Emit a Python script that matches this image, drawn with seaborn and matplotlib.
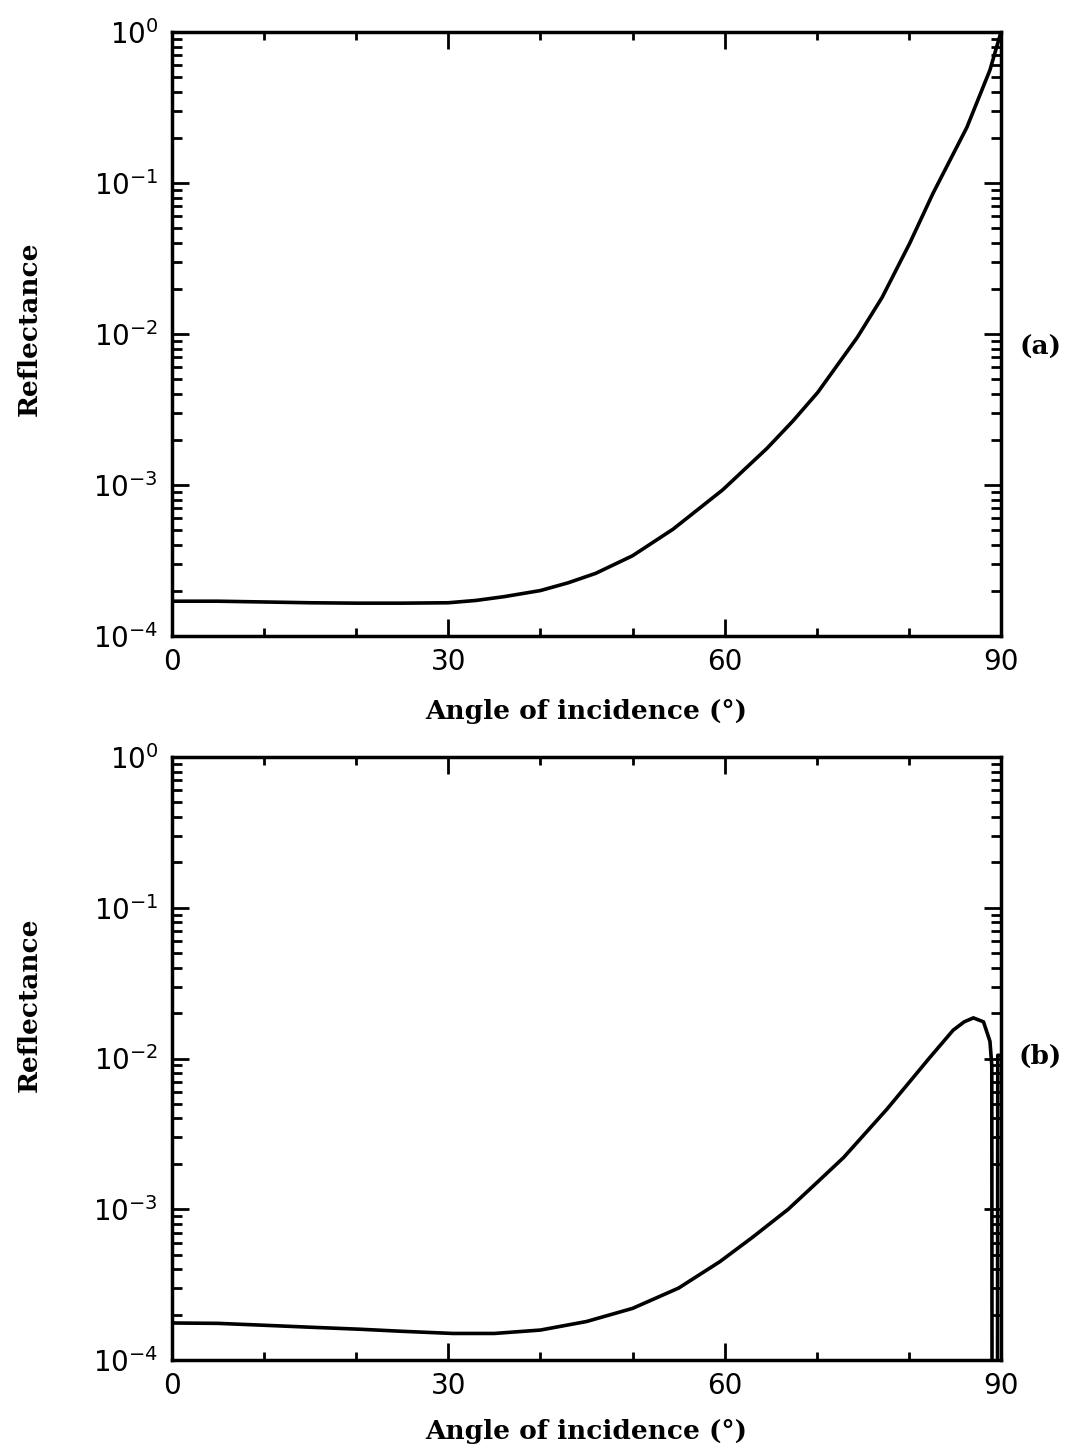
import numpy as np
import pandas as pd
import matplotlib
matplotlib.use("Agg")
import matplotlib.pyplot as plt
import matplotlib.ticker as mticker
import seaborn as sns

# ---- data ----
angle_a = [0, 5, 10, 15, 20, 25, 30, 33, 36, 40, 43, 46, 50, 54.4, 59.8, 64.6,
           67.4, 70.1, 74.4, 77.1, 80.1, 82.6, 86.3, 88.8, 90]
refl_a = [1.70e-4, 1.70e-4, 1.68e-4, 1.66e-4, 1.65e-4, 1.65e-4, 1.66e-4, 1.72e-4,
          1.82e-4, 2.0e-4, 2.25e-4, 2.6e-4, 3.4e-4, 5.1e-4, 9.3e-4, 1.75e-3,
          2.65e-3, 4.1e-3, 9.5e-3, 1.75e-2, 4.0e-2, 8.5e-2, 0.234, 0.56, 1.0]

angle_b = [0, 5, 10, 15, 20.4, 25, 30.5, 35, 40, 45, 50, 55, 59.5, 63, 66.9, 70,
           72.9, 77.6, 82.3, 84.8, 86, 87, 88.1, 88.8, 89.0, 89.05, 89.6, 89.65, 89.95]
refl_b = [1.76e-4, 1.75e-4, 1.70e-4, 1.65e-4, 1.60e-4, 1.55e-4, 1.50e-4, 1.50e-4,
          1.58e-4, 1.80e-4, 2.2e-4, 3.0e-4, 4.5e-4, 6.5e-4, 1.0e-3, 1.5e-3,
          2.2e-3, 4.6e-3, 1.02e-2, 1.54e-2, 1.75e-2, 1.86e-2, 1.75e-2, 1.3e-2,
          9e-3, 1e-6, 1e-6, 1.05e-2, 1.05e-2]

x_major = [0, 30, 60, 90]
x_minor = [10, 20, 40, 50, 70, 80]
panel_tags = ["(a)", "(b)"]
xlabel_text = "Angle of incidence (°)"
ylabel_text = "Reflectance"

sns.set_style("ticks")
plt.rcParams["font.family"] = ["DejaVu Sans"]
plt.rcParams.update({
    "xtick.direction": "in", "ytick.direction": "in",
    "xtick.top": True, "ytick.right": True,
    "xtick.major.size": 12, "ytick.major.size": 12,
    "xtick.minor.size": 6, "ytick.minor.size": 7,
    "xtick.major.width": 2, "ytick.major.width": 2,
    "xtick.minor.width": 2, "ytick.minor.width": 2,
    "axes.linewidth": 2.5,
    "axes.edgecolor": "black",
    "xtick.color": "black", "ytick.color": "black",
    "xtick.labelcolor": "black", "ytick.labelcolor": "black",
    "text.color": "black", "axes.labelcolor": "black",
    "xtick.labelsize": 20, "ytick.labelsize": 20,
    "xtick.major.pad": 9, "ytick.major.pad": 10,
})

fig = plt.figure(figsize=(10.88, 14.49), dpi=100)
L = 172 / 1088
W = (1001 - 172) / 1088
ax_a = fig.add_axes([L, 1 - 636 / 1449, W, (636 - 32) / 1449])
ax_b = fig.add_axes([L, 1 - 1360 / 1449, W, (1360 - 757) / 1449])

datasets = [
    pd.DataFrame({"angle": angle_a, "R": refl_a}),
    pd.DataFrame({"angle": angle_b, "R": refl_b}),
]

label_font = dict(family="DejaVu Serif", weight="bold", size=19)

for ax, df, tag, ycen, xlab_top, tag_y, (top_px, bot_px) in zip(
        [ax_a, ax_b], datasets, panel_tags, [329, 1005], [699, 1419], [347, 1056],
        [(32, 636), (757, 1360)]):
    sns.lineplot(data=df, x="angle", y="R", ax=ax, color="black", lw=2.6,
                 sort=False, estimator=None)
    ax.set_yscale("log")
    ax.set_ylim(1e-4, 1)
    ax.set_xlim(0, 90)
    ax.set_xticks(x_major)
    ax.set_xticks(x_minor, minor=True)
    ax.yaxis.set_major_locator(mticker.LogLocator(base=10, numticks=10))
    ax.yaxis.set_minor_locator(mticker.LogLocator(base=10, subs=np.arange(2, 10), numticks=20))
    ax.yaxis.set_minor_formatter(mticker.NullFormatter())
    ax.tick_params(which="both", top=True, right=True, direction="in")
    ax.set_xlabel(xlabel_text, fontdict=label_font)
    ax.set_ylabel(ylabel_text, fontdict=label_font)
    h = bot_px - top_px
    ax.xaxis.set_label_coords(0.5, -(xlab_top - bot_px) / h)
    ax.yaxis.set_label_coords((42 - 172) / 829, (bot_px - ycen) / h)
    for s in ax.spines.values():
        s.set_visible(True)
        s.set_color("black")
    fig.text(1040 / 1088, 1 - tag_y / 1449, tag,
             ha="center", va="center", **label_font)

fig.savefig("out.png", dpi=100)
